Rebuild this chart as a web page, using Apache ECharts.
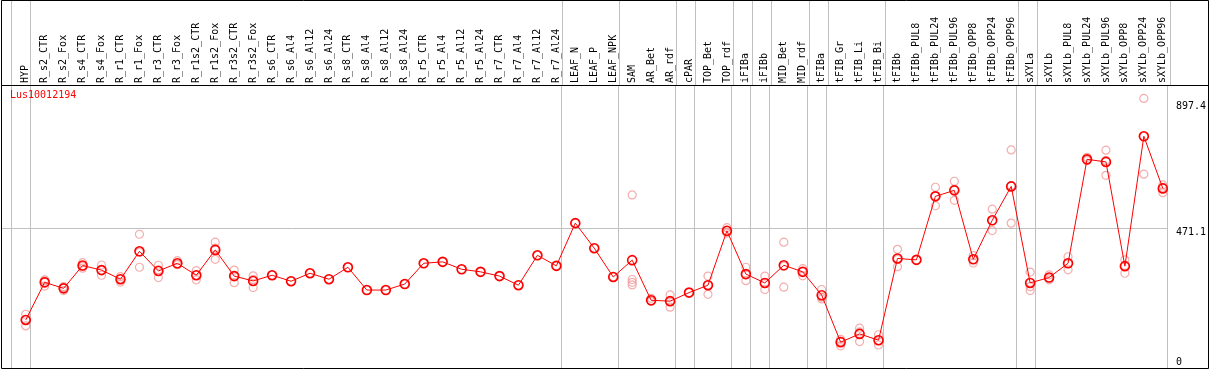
<!DOCTYPE html>
<html>
<head>
<meta charset="utf-8">
<script src="https://cdn.jsdelivr.net/npm/echarts@6/dist/echarts.min.js"></script>
<style>
html,body{margin:0;padding:0;background:#fff;}
#chart{width:1209px;height:370px;}
</style>
</head>
<body>
<div id="chart"></div>
<script>
const geneId = 'Lus10012194';
const categories = [
  'HYP','R_s2_CTR','R_s2_Fox','R_s4_CTR','R_s4_Fox','R_r1_CTR','R_r1_Fox','R_r3_CTR','R_r3_Fox',
  'R_r1s2_CTR','R_r1s2_Fox','R_r3s2_CTR','R_r3s2_Fox','R_s6_CTR','R_s6_Al4','R_s6_Al12','R_s6_Al24',
  'R_s8_CTR','R_s8_Al4','R_s8_Al12','R_s8_Al24','R_r5_CTR','R_r5_Al4','R_r5_Al12','R_r5_Al24',
  'R_r7_CTR','R_r7_Al4','R_r7_Al12','R_r7_Al24','LEAF_N','LEAF_P','LEAF_NPK','SAM','AR_Bet','AR_rdf',
  'cPAR','TOP_Bet','TOP_rdf','iFIBa','iFIBb','MID_Bet','MID_rdf','tFIBa','tFIB_Gr','tFIB_Li','tFIB_Bi',
  'tFIBb','tFIBb_PUL8','tFIBb_PUL24','tFIBb_PUL96','tFIBb_OPP8','tFIBb_OPP24','tFIBb_OPP96',
  'sXYLa','sXYLb','sXYLb_PUL8','sXYLb_PUL24','sXYLb_PUL96','sXYLb_OPP8','sXYLb_OPP24','sXYLb_OPP96'
];
const means = [
  149, 281, 260, 340, 324, 292, 390, 321, 348,
  306, 395, 303, 286, 306, 285, 313, 292,
  334, 254, 254, 275, 348, 353, 327, 318,
  303, 271, 376, 339, 489, 401, 300, 359, 218, 215,
  245, 271, 462, 310, 279, 341, 318, 236, 71, 100, 78,
  365, 360, 583, 604, 362, 499, 618,
  279, 298, 348, 713, 704, 338, 794, 611
];
const replicates = [
  [169,128,150],[290,268,286],[252,266,263],[350,331,338],[342,306,323],[301,282,293],[450,334,387],[341,298,325],[357,345,343],
  [322,290,306],[422,362,401],[324,280,304],[304,263,292],[306],[285],[313],[292],
  [334],[254],[254],[275],[348],[353],[327],[318],
  [303],[271],[376],[339],[489],[401],[300],[588,291,281,272],[225,215,215],[237,194,214],
  [245],[303,239,271],[473,454,458],[334,287,308],[303,256,278],[422,264,338],[329,304,320],[256,223,229],[81,58,74],[120,73,107],[97,61,76],
  [397,336,362],[360],[615,550,585],[636,569,608],[375,349,362],[538,463,497],[746,489,621],
  [317,252,266,281],[307,290,296],[371,325,349],[720,708,712],[745,657,709],[360,313,340],[927,661,794],[623,596,615]
];
const yTickValues = [0, 471.1, 897.4];
const groupLastIndex = [-1, 0, 28, 31, 34, 35, 37, 38, 39, 41, 42, 45, 52, 53, 60];

const FONT = 'DejaVu Sans Mono';
const xMin = -24.8 / 19;
const xMax = xMin + 1207 / 19;
const sepOffset = 0.2474;

const meanData = means.map((v, i) => [i, v]);
const repData = [];
replicates.forEach((arr, i) => arr.forEach(v => repData.push([i, v])));
const makeSepLines = () => groupLastIndex.map(k => ({ xAxis: k + sepOffset }));
const lineStyleGrey = { color: '#c0c0c0', width: 1, type: 'solid' };

const chart = echarts.init(document.getElementById('chart'), null, { renderer: 'canvas' });
chart.setOption({
  animation: false,
  backgroundColor: '#fff',
  title: {
    text: geneId, left: 10, top: 90, padding: 0,
    textStyle: { color: '#ff0000', fontSize: 10, fontFamily: FONT, fontWeight: 'normal' }
  },
  grid: [
    { left: 1, right: 1, top: 85, bottom: 2 },
    { left: 1, right: 1, top: 0, height: 85 }
  ],
  xAxis: [
    {
      type: 'value', gridIndex: 0, min: xMin, max: xMax, position: 'top',
      axisLine: { show: false }, axisTick: { show: false }, splitLine: { show: false },
      axisLabel: {
        customValues: categories.map((c, i) => i),
        formatter: v => categories[Math.round(v)],
        rotate: 90, margin: 2, color: '#000', fontSize: 10, fontFamily: FONT,
        showMinLabel: true, showMaxLabel: true
      }
    },
    {
      type: 'value', gridIndex: 1, min: xMin, max: xMax,
      axisLine: { show: false }, axisTick: { show: false }, axisLabel: { show: false }, splitLine: { show: false }
    }
  ],
  yAxis: [
    {
      type: 'value', gridIndex: 0, min: -19.7, max: 974, position: 'right',
      axisLine: { show: false }, axisTick: { show: false }, splitLine: { show: false },
      axisLabel: {
        inside: true, align: 'left', margin: 29, color: '#000', fontSize: 10, fontFamily: FONT,
        customValues: yTickValues,
        formatter: v => (v === 0 ? '0' : (v === yTickValues[1] ? '{mid|' + v.toFixed(1) + '}' : v.toFixed(1))),
        rich: { mid: { padding: [8, 0, 0, 0], fontSize: 10, fontFamily: FONT, color: '#000' } }
      }
    },
    {
      type: 'value', gridIndex: 1, min: 0, max: 1,
      axisLine: { show: false }, axisTick: { show: false }, axisLabel: { show: false }, splitLine: { show: false }
    }
  ],
  series: [
    {
      type: 'scatter', xAxisIndex: 1, yAxisIndex: 1, data: [[0, 2]], symbolSize: 0, silent: true,
      markLine: { silent: true, symbol: ['none', 'none'], label: { show: false }, lineStyle: lineStyleGrey, data: makeSepLines() }
    },
    {
      type: 'scatter', xAxisIndex: 0, yAxisIndex: 0, z: 8, data: repData, silent: true,
      symbol: 'circle', symbolSize: 8,
      itemStyle: { color: 'rgba(255,255,255,0)', borderColor: '#f09a9a', borderWidth: 1.2 },
      markLine: {
        silent: true, symbol: ['none', 'none'], label: { show: false }, lineStyle: lineStyleGrey,
        data: makeSepLines().concat([[{ coord: [xMin, yTickValues[1]] }, { coord: [60 + sepOffset, yTickValues[1]] }]])
      }
    },
    {
      type: 'line', xAxisIndex: 0, yAxisIndex: 0, z: 10, data: meanData, silent: true,
      symbol: 'circle', symbolSize: 9, showAllSymbol: true,
      lineStyle: { color: '#ff0000', width: 1 },
      itemStyle: { color: 'rgba(255,255,255,0)', borderColor: '#ff0000', borderWidth: 1.6 }
    }
  ],
  graphic: [
    { type: 'rect', silent: true, z: 100, shape: { x: 1.5, y: 0.5, width: 1207, height: 368 },
      style: { fill: null, stroke: '#000', lineWidth: 1 } },
    { type: 'line', silent: true, z: 100, shape: { x1: 1.5, y1: 85.5, x2: 1208.5, y2: 85.5 },
      style: { stroke: '#000', lineWidth: 1 } }
  ]
});
</script>
</body>
</html>
